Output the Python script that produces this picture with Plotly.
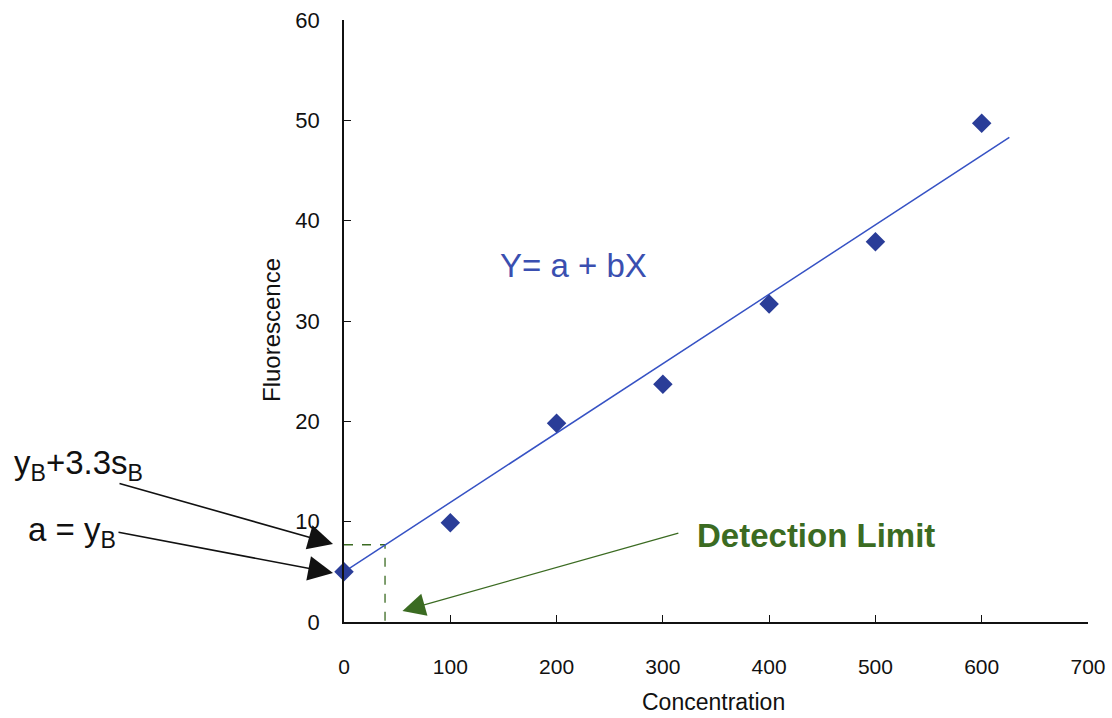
import plotly.graph_objects as go

# Data
concentration = [0, 100, 200, 300, 400, 500, 600]
fluorescence = [5.0, 9.9, 19.8, 23.7, 31.7, 37.9, 49.7]

# Calibration line (Y = a + bX) as drawn
line_x = [0, 626]
line_y = [5.0, 48.3]

# Detection limit point (yB + 3.3 sB) and its concentration
dl_x = 38.6
dl_y = 7.7

x_ticks = [0, 100, 200, 300, 400, 500, 600, 700]
y_ticks = [0, 10, 20, 30, 40, 50, 60]

BLUE_PT = "#2a3d98"
BLUE_LINE = "#3652c4"
GREEN = "#3b6b22"

# plot area geometry (pixels)
L, R, T, B = 344, 24, 20, 96
W, H = 1112, 718
PW, PH = W - L - R, H - T - B


def px(xpix):
    return (xpix - L) / PW


def py(ypix):
    return (H - B - ypix) / PH


fig = go.Figure()

# Dashed guide lines
fig.add_trace(go.Scatter(x=[0, dl_x, dl_x], y=[dl_y, dl_y, 0], mode="lines",
                         line=dict(color=GREEN, width=1.3, dash="dash"),
                         hoverinfo="skip", showlegend=False, cliponaxis=False))
# Regression line
fig.add_trace(go.Scatter(x=line_x, y=line_y, mode="lines",
                         line=dict(color=BLUE_LINE, width=1.5),
                         showlegend=False))
# Data points
fig.add_trace(go.Scatter(x=concentration, y=fluorescence, mode="markers",
                         marker=dict(symbol="diamond", size=15, color=BLUE_PT),
                         showlegend=False, cliponaxis=False))

font_main = "Arial, Liberation Sans, sans-serif"


def label(xp, yp, text, size, color="#111111", angle=0):
    return dict(x=px(xp), y=py(yp), xref="paper", yref="paper", text=text,
                xanchor="center", yanchor="middle", textangle=angle,
                showarrow=False, font=dict(size=size, color=color, family=font_main))


annotations = [
    label(78, 465, "y<sub>B</sub>+3.3s<sub>B</sub>", 33),
    label(72, 532, "a = y<sub>B</sub>", 33),
    label(573, 265, "Y= a + bX", 33, color="#3a4fb0"),
    label(816, 535, "<b>Detection Limit</b>", 33, color=GREEN),
    # arrows
    dict(x=px(333), y=py(544), ax=-215, ay=-61, xref="paper", yref="paper",
         text="", showarrow=True, arrowhead=2, arrowsize=3.1, arrowwidth=1.6,
         arrowcolor="#111111"),
    dict(x=px(333), y=py(573), ax=-216, ay=-41, xref="paper", yref="paper",
         text="", showarrow=True, arrowhead=2, arrowsize=3.1, arrowwidth=1.6,
         arrowcolor="#111111"),
    dict(x=55, y=1.1, ax=316, ay=8.9, xref="x", yref="y", axref="x", ayref="y",
         text="", showarrow=True, arrowhead=2, arrowsize=3.5, arrowwidth=1.3,
         arrowcolor=GREEN),
    # axis titles
    label(272, 330, "Fluorescence", 24, angle=-90),
    label(713, 702, "Concentration", 23),
]

fig.update_layout(
    width=W, height=H,
    margin=dict(l=L, r=R, t=T, b=B, autoexpand=False),
    plot_bgcolor="white", paper_bgcolor="white",
    annotations=annotations,
    font=dict(family=font_main, color="#111111"),
)

fig.update_xaxes(
    range=[0, 700], tickvals=x_ticks, ticktext=[str(v) for v in x_ticks],
    showgrid=False, zeroline=False, showline=True, linecolor="#111111", linewidth=1.5,
    ticks="inside", ticklen=7, tickwidth=1.3, tickcolor="#111111",
    tickfont=dict(size=21, family=font_main),
    ticklabelstandoff=25, automargin=False,
)
fig.update_yaxes(
    range=[0, 60], tickvals=y_ticks, ticktext=[str(v) for v in y_ticks],
    showgrid=False, zeroline=False, showline=True, linecolor="#111111", linewidth=1.5,
    ticks="inside", ticklen=7, tickwidth=1.3, tickcolor="#111111",
    tickfont=dict(size=22, family=font_main),
    ticklabelstandoff=18, automargin=False,
)

fig.write_html("out.html", config={"displayModeBar": False},
               post_script="document.body.style.margin='0';")
